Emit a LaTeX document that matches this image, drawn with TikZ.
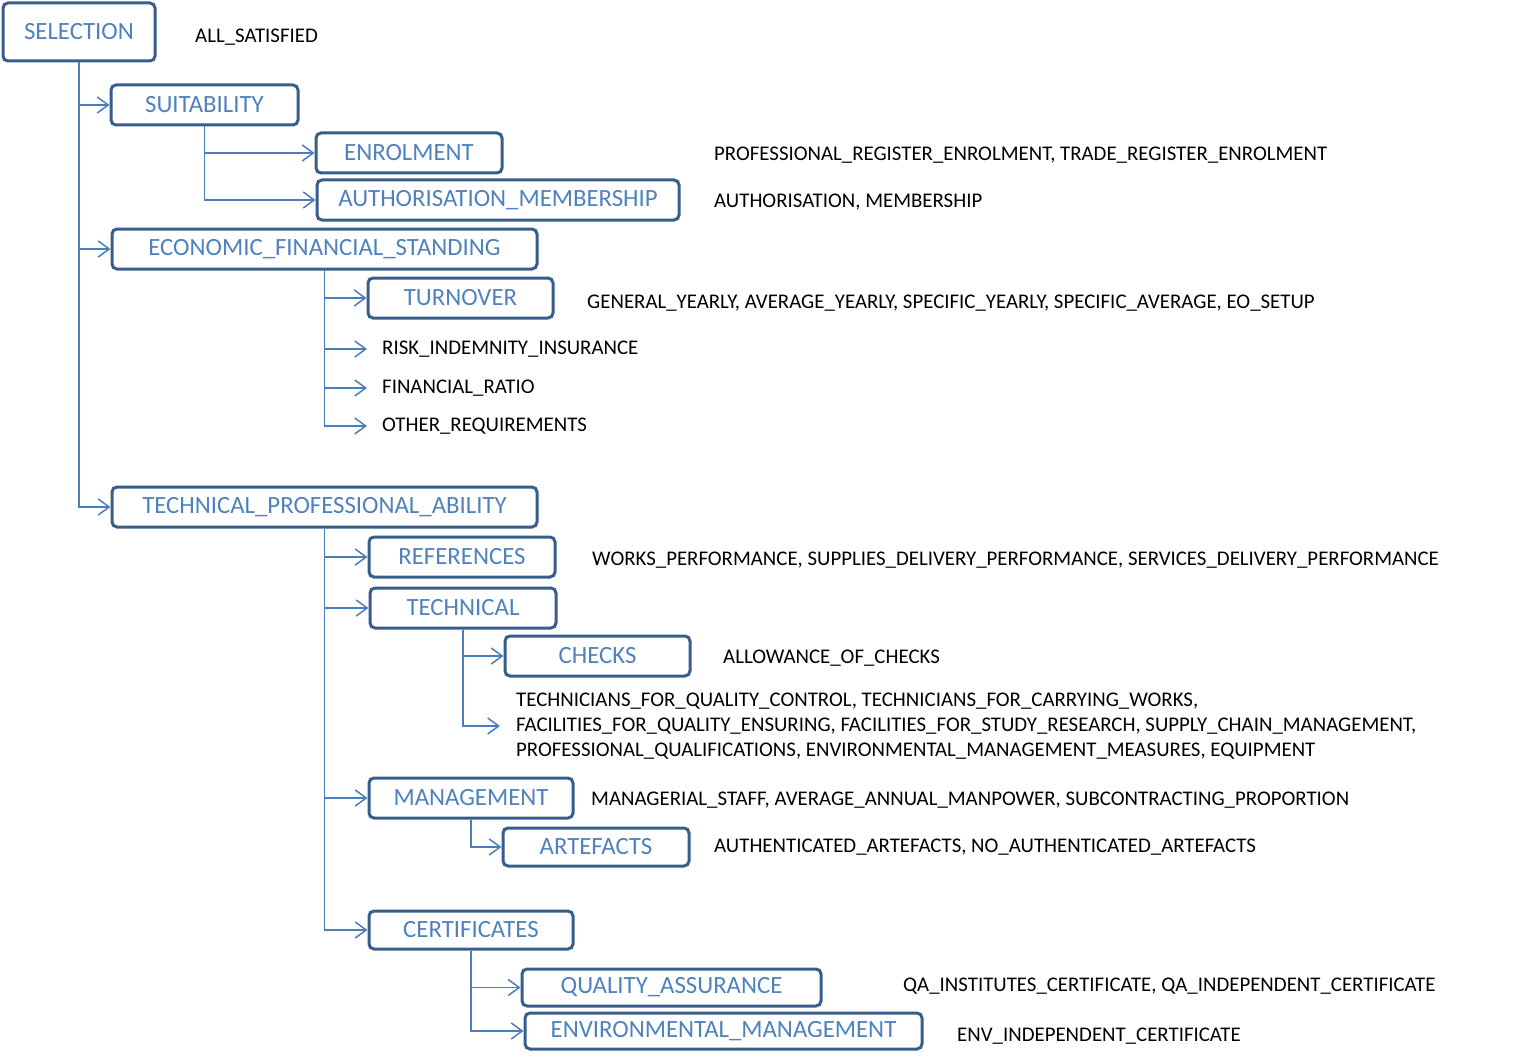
\documentclass[tikz,border=0pt]{standalone}
\usepackage{fontspec}
\setmainfont{Carlito}
\usetikzlibrary{arrows.meta}
\definecolor{boxline}{HTML}{385D8A}
\definecolor{boxtext}{HTML}{4F81BD}
\definecolor{linkline}{HTML}{4A7EBB}
\begin{document}
\begin{tikzpicture}[x=1pt,y=-1pt,
  box/.style={draw=boxline,line width=3pt,rounded corners=5pt,text=boxtext,
    font=\fontsize{24.8}{28}\selectfont,minimum height=40pt,inner sep=0pt},
  note/.style={anchor=west,inner sep=0pt,yshift=-2pt,font=\fontsize{20.85}{25}\selectfont},
  leaf/.style={note,inner xsep=15pt},
  link/.style={draw=linkline,line width=1.5pt,-{Straight Barb[length=11pt,width=16pt,line width=1.5pt]}}]
\useasboundingbox (0,0) rectangle (1527,1062);
% boxes
\node(sel) at (79,32) [box,minimum width=152pt,minimum height=58pt] {SELECTION};
\node(suit) at (204.5,105) [box,minimum width=187pt] {SUITABILITY};
\node(enrol) at (409,153) [box,minimum width=186pt] {ENROLMENT};
\node(auth) at (498,200) [box,minimum width=362pt] {AUTHORISATION\_MEMBERSHIP};
\node(eco) at (324.5,249) [box,minimum width=425pt] {ECONOMIC\_FINANCIAL\_STANDING};
\node(turn) at (460.5,298) [box,minimum width=185pt] {TURNOVER};
\node(tpa) at (324.5,507) [box,minimum width=425pt] {TECHNICAL\_PROFESSIONAL\_ABILITY};
\node(ref) at (462,557) [box,minimum width=186pt] {REFERENCES};
\node(tech) at (463,608) [box,minimum width=186pt] {TECHNICAL};
\node(checks) at (597.5,656) [box,minimum width=185pt] {CHECKS};
\node(mgmt) at (471,798) [box,minimum width=204pt] {MANAGEMENT};
\node(art) at (596,847) [box,minimum width=186pt,minimum height=38pt] {ARTEFACTS};
\node(cert) at (471,930) [box,minimum width=204pt,minimum height=38pt] {CERTIFICATES};
\node(qa) at (671.5,987.5) [box,minimum width=299pt,minimum height=37pt] {QUALITY\_ASSURANCE};
\node(env) at (723.5,1031) [box,minimum width=397pt,minimum height=36pt] {ENVIRONMENTAL\_MANAGEMENT};
% leaves without box
\node(risk) at (367,347) [leaf] {RISK\_INDEMNITY\_INSURANCE};
\node(ratio) at (367,386) [leaf] {FINANCIAL\_RATIO};
\node(other) at (367,424) [leaf] {OTHER\_REQUIREMENTS};
\node(staff) at (500,724) [leaf,inner xsep=16pt,align=left] {TECHNICIANS\_FOR\_QUALITY\_CONTROL, TECHNICIANS\_FOR\_CARRYING\_WORKS,\\
  FACILITIES\_FOR\_QUALITY\_ENSURING, FACILITIES\_FOR\_STUDY\_RESEARCH, SUPPLY\_CHAIN\_MANAGEMENT,\\
  PROFESSIONAL\_QUALIFICATIONS, ENVIRONMENTAL\_MANAGEMENT\_MEASURES, EQUIPMENT};
% notes
\node(selnote) at (195,35) [note] {ALL\_SATISFIED};
\node(enrolnote) at (714,153) [note] {PROFESSIONAL\_REGISTER\_ENROLMENT, TRADE\_REGISTER\_ENROLMENT};
\node(authnote) at (714,200) [note] {AUTHORISATION, MEMBERSHIP};
\node(turnnote) at (587,301) [note] {GENERAL\_YEARLY, AVERAGE\_YEARLY, SPECIFIC\_YEARLY, SPECIFIC\_AVERAGE, EO\_SETUP};
\node(refnote) at (592,558) [note] {WORKS\_PERFORMANCE, SUPPLIES\_DELIVERY\_PERFORMANCE, SERVICES\_DELIVERY\_PERFORMANCE};
\node(checksnote) at (723,656) [note] {ALLOWANCE\_OF\_CHECKS};
\node(mgmtnote) at (591,798) [note] {MANAGERIAL\_STAFF, AVERAGE\_ANNUAL\_MANPOWER, SUBCONTRACTING\_PROPORTION};
\node(artnote) at (714,845) [note] {AUTHENTICATED\_ARTEFACTS, NO\_AUTHENTICATED\_ARTEFACTS};
\node(qanote) at (903,984) [note] {QA\_INSTITUTES\_CERTIFICATE, QA\_INDEPENDENT\_CERTIFICATE};
\node(envnote) at (957,1034) [note] {ENV\_INDEPENDENT\_CERTIFICATE};
% connectors
\foreach \a/\b in {sel/suit,sel/eco,sel/tpa,suit/enrol,suit/auth,
  eco/turn,eco/risk,eco/ratio,eco/other,
  tpa/ref,tpa/tech,tpa/mgmt,tpa/cert,tech/checks,tech/staff,
  mgmt/art,cert/qa,cert/env}
  \draw[link] (\a.south) |- (\b.west);
\end{tikzpicture}
\end{document}
